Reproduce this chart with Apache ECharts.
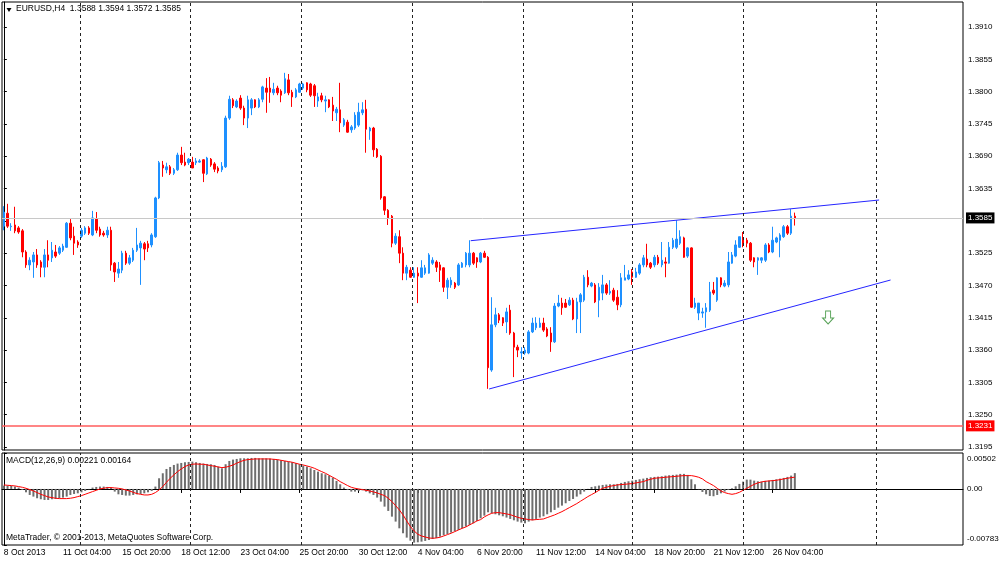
<!DOCTYPE html>
<html>
<head>
<meta charset="utf-8">
<title>EURUSD,H4</title>
<script src="https://cdn.jsdelivr.net/npm/echarts@6/dist/echarts.min.js"></script>
<style>
  html, body { margin: 0; padding: 0; background: #fff; }
  #main { width: 1000px; height: 562px; }
</style>
</head>
<body>
<div id="main"></div>
<script>
// candles: [open, close, low, high]
var candles = [
  [1.3571,1.3595,1.3564,1.3605],[1.3593,1.3571,1.3568,1.3609],[1.3570,1.3571,1.3563,1.3576],[1.3573,1.3563,1.3559,1.3604],
  [1.3568,1.3561,1.3558,1.3571],[1.3563,1.3527,1.3518,1.3566],[1.3527,1.3505,1.3500,1.3530],[1.3505,1.3513,1.3496,1.3518],
  [1.3510,1.3522,1.3483,1.3527],[1.3522,1.3505,1.3500,1.3532],[1.3510,1.3501,1.3484,1.3513],[1.3501,1.3522,1.3484,1.3532],
  [1.3522,1.3513,1.3501,1.3547],[1.3517,1.3530,1.3510,1.3544],[1.3527,1.3520,1.3517,1.3539],[1.3525,1.3534,1.3522,1.3537],
  [1.3530,1.3537,1.3527,1.3541],[1.3535,1.3576,1.3534,1.3578],[1.3576,1.3551,1.3547,1.3583],[1.3554,1.3542,1.3522,1.3570],
  [1.3544,1.3539,1.3534,1.3547],[1.3554,1.3564,1.3551,1.3568],[1.3559,1.3568,1.3556,1.3571],[1.3568,1.3559,1.3556,1.3571],
  [1.3556,1.3585,1.3554,1.3597],[1.3583,1.3564,1.3559,1.3595],[1.3566,1.3556,1.3553,1.3570],[1.3559,1.3556,1.3553,1.3563],
  [1.3556,1.3564,1.3551,1.3570],[1.3564,1.3505,1.3495,1.3570],[1.3508,1.3493,1.3476,1.3510],[1.3491,1.3498,1.3483,1.3510],
  [1.3496,1.3525,1.3491,1.3529],[1.3525,1.3508,1.3505,1.3529],[1.3508,1.3517,1.3505,1.3522],[1.3513,1.3530,1.3510,1.3534],
  [1.3530,1.3539,1.3527,1.3568],[1.3534,1.3542,1.3471,1.3546],[1.3541,1.3532,1.3513,1.3544],[1.3541,1.3534,1.3527,1.3546],
  [1.3539,1.3556,1.3535,1.3559],[1.3553,1.3619,1.3551,1.3621],[1.3619,1.3679,1.3617,1.3682],[1.3675,1.3670,1.3655,1.3682],
  [1.3667,1.3672,1.3661,1.3679],[1.3672,1.3661,1.3658,1.3675],[1.3661,1.3667,1.3658,1.3670],[1.3667,1.3692,1.3665,1.3696],
  [1.3692,1.3679,1.3675,1.3706],[1.3680,1.3675,1.3673,1.3696],[1.3679,1.3685,1.3675,1.3687],[1.3680,1.3670,1.3670,1.3689],
  [1.3679,1.3682,1.3675,1.3687],[1.3680,1.3682,1.3679,1.3685],[1.3684,1.3661,1.3646,1.3685],[1.3660,1.3687,1.3658,1.3689],
  [1.3685,1.3675,1.3672,1.3687],[1.3677,1.3668,1.3663,1.3680],[1.3670,1.3665,1.3661,1.3673],[1.3667,1.3673,1.3663,1.3680],
  [1.3672,1.3755,1.3670,1.3759],[1.3755,1.3787,1.3752,1.3793],[1.3786,1.3776,1.3772,1.3789],[1.3774,1.3784,1.3772,1.3787],
  [1.3789,1.3772,1.3769,1.3794],[1.3772,1.3755,1.3743,1.3776],[1.3755,1.3786,1.3738,1.3793],[1.3772,1.3786,1.3760,1.3789],
  [1.3786,1.3774,1.3772,1.3787],[1.3774,1.3786,1.3772,1.3789],[1.3787,1.3808,1.3782,1.3810],[1.3806,1.3799,1.3764,1.3823],
  [1.3806,1.3799,1.3781,1.3825],[1.3798,1.3804,1.3794,1.3815],[1.3806,1.3798,1.3794,1.3810],[1.3801,1.3794,1.3782,1.3804],
  [1.3798,1.3822,1.3796,1.3832],[1.3820,1.3798,1.3794,1.3830],[1.3799,1.3791,1.3774,1.3803],[1.3791,1.3803,1.3789,1.3806],
  [1.3799,1.3813,1.3798,1.3815],[1.3806,1.3813,1.3803,1.3815],[1.3815,1.3803,1.3799,1.3816],[1.3813,1.3794,1.3791,1.3815],
  [1.3810,1.3793,1.3774,1.3813],[1.3784,1.3791,1.3774,1.3798],[1.3793,1.3786,1.3782,1.3798],[1.3784,1.3786,1.3765,1.3793],
  [1.3786,1.3774,1.3772,1.3787],[1.3777,1.3767,1.3750,1.3791],[1.3764,1.3770,1.3750,1.3774],[1.3769,1.3747,1.3731,1.3815],
  [1.3743,1.3752,1.3740,1.3755],[1.3748,1.3731,1.3730,1.3752],[1.3735,1.3740,1.3730,1.3743],[1.3738,1.3760,1.3735,1.3765],
  [1.3743,1.3765,1.3740,1.3781],[1.3764,1.3769,1.3760,1.3782],[1.3770,1.3736,1.3696,1.3786],[1.3733,1.3738,1.3718,1.3740],
  [1.3738,1.3701,1.3689,1.3740],[1.3702,1.3689,1.3687,1.3704],[1.3690,1.3619,1.3616,1.3692],[1.3621,1.3598,1.3590,1.3622],
  [1.3598,1.3585,1.3573,1.3600],[1.3588,1.3542,1.3535,1.3590],[1.3542,1.3554,1.3539,1.3559],[1.3553,1.3525,1.3508,1.3564],
  [1.3525,1.3491,1.3479,1.3535],[1.3491,1.3501,1.3479,1.3505],[1.3496,1.3484,1.3483,1.3501],[1.3484,1.3491,1.3483,1.3501],
  [1.3491,1.3486,1.3440,1.3501],[1.3484,1.3500,1.3483,1.3513],[1.3491,1.3500,1.3488,1.3505],[1.3491,1.3522,1.3490,1.3525],
  [1.3508,1.3513,1.3505,1.3518],[1.3510,1.3501,1.3493,1.3513],[1.3505,1.3496,1.3476,1.3510],[1.3500,1.3467,1.3459,1.3501],
  [1.3467,1.3479,1.3447,1.3483],[1.3471,1.3479,1.3466,1.3484],[1.3474,1.3467,1.3464,1.3476],[1.3471,1.3505,1.3469,1.3508],
  [1.3501,1.3508,1.3500,1.3510],[1.3505,1.3525,1.3501,1.3527],[1.3505,1.3525,1.3501,1.3547],[1.3525,1.3508,1.3505,1.3527],
  [1.3517,1.3510,1.3500,1.3518],[1.3510,1.3525,1.3508,1.3527],[1.3525,1.3518,1.3517,1.3529],[1.3518,1.3330,1.3294,1.3520],
  [1.3326,1.3403,1.3323,1.3450],[1.3403,1.3420,1.3399,1.3432],[1.3420,1.3411,1.3406,1.3423],[1.3415,1.3406,1.3401,1.3416],
  [1.3408,1.3425,1.3389,1.3432],[1.3428,1.3389,1.3386,1.3437],[1.3389,1.3365,1.3314,1.3391],[1.3365,1.3360,1.3348,1.3369],
  [1.3355,1.3357,1.3345,1.3365],[1.3355,1.3360,1.3352,1.3365],[1.3355,1.3391,1.3353,1.3394],[1.3391,1.3406,1.3389,1.3415],
  [1.3398,1.3406,1.3394,1.3416],[1.3399,1.3406,1.3398,1.3415],[1.3406,1.3394,1.3391,1.3415],[1.3396,1.3384,1.3382,1.3399],
  [1.3389,1.3374,1.3357,1.3399],[1.3374,1.3435,1.3372,1.3440],[1.3435,1.3440,1.3433,1.3454],[1.3440,1.3432,1.3420,1.3449],
  [1.3440,1.3433,1.3432,1.3447],[1.3437,1.3445,1.3435,1.3450],[1.3445,1.3413,1.3411,1.3449],[1.3413,1.3442,1.3389,1.3449],
  [1.3442,1.3454,1.3389,1.3457],[1.3445,1.3484,1.3442,1.3488],[1.3484,1.3471,1.3467,1.3496],[1.3469,1.3474,1.3467,1.3476],
  [1.3471,1.3442,1.3440,1.3474],[1.3445,1.3467,1.3416,1.3474],[1.3457,1.3471,1.3445,1.3488],[1.3471,1.3457,1.3454,1.3474],
  [1.3457,1.3460,1.3454,1.3479],[1.3462,1.3445,1.3442,1.3466],[1.3450,1.3437,1.3428,1.3462],[1.3437,1.3483,1.3433,1.3491],
  [1.3479,1.3483,1.3479,1.3505],[1.3481,1.3488,1.3479,1.3496],[1.3493,1.3484,1.3471,1.3498],[1.3484,1.3493,1.3483,1.3500],
  [1.3491,1.3505,1.3488,1.3508],[1.3505,1.3517,1.3501,1.3522],[1.3515,1.3505,1.3501,1.3541],[1.3508,1.3501,1.3498,1.3510],
  [1.3505,1.3518,1.3501,1.3522],[1.3518,1.3508,1.3505,1.3522],[1.3505,1.3513,1.3501,1.3544],[1.3510,1.3508,1.3484,1.3518],
  [1.3508,1.3535,1.3507,1.3544],[1.3535,1.3547,1.3532,1.3551],[1.3535,1.3549,1.3532,1.3581],[1.3542,1.3553,1.3539,1.3564],
  [1.3551,1.3518,1.3517,1.3553],[1.3520,1.3534,1.3517,1.3535],[1.3534,1.3433,1.3432,1.3535],[1.3433,1.3440,1.3430,1.3449],
  [1.3423,1.3440,1.3411,1.3440],[1.3423,1.3425,1.3415,1.3432],[1.3425,1.3432,1.3398,1.3440],[1.3428,1.3459,1.3425,1.3476],
  [1.3462,1.3457,1.3454,1.3476],[1.3445,1.3483,1.3442,1.3484],[1.3483,1.3471,1.3467,1.3484],[1.3469,1.3474,1.3467,1.3479],
  [1.3471,1.3510,1.3467,1.3527],[1.3508,1.3522,1.3507,1.3527],[1.3520,1.3539,1.3518,1.3547],[1.3535,1.3553,1.3534,1.3553],
  [1.3549,1.3539,1.3535,1.3561],[1.3547,1.3542,1.3535,1.3551],[1.3542,1.3513,1.3510,1.3544],[1.3517,1.3510,1.3501,1.3518],
  [1.3513,1.3517,1.3488,1.3518],[1.3513,1.3517,1.3508,1.3518],[1.3513,1.3539,1.3510,1.3542],[1.3539,1.3527,1.3525,1.3542],
  [1.3527,1.3547,1.3525,1.3570],[1.3544,1.3551,1.3542,1.3553],[1.3547,1.3556,1.3518,1.3559],[1.3553,1.3570,1.3551,1.3573],
  [1.3570,1.3559,1.3556,1.3573],[1.3559,1.3588,1.3556,1.3600],[1.3588,1.3585,1.3572,1.3594]
];

// MACD(12,26,9) histogram and signal, read bar by bar
var macdMain = [
  0.00047,0.00047,0.00042,0.00033,0.00019,-0.00014,-0.00047,-0.00084,-0.00107,-0.00130,
  -0.00144,-0.00154,-0.00154,-0.00144,-0.00140,-0.00130,-0.00121,-0.00107,-0.00084,-0.00070,
  -0.00061,-0.00047,-0.00028,-0.00005,0.00019,0.00028,0.00033,0.00033,0.00028,0.00019,
  -0.00037,-0.00075,-0.00084,-0.00093,-0.00093,-0.00084,-0.00075,-0.00070,-0.00061,-0.00047,
  -0.00028,0.00033,0.00149,0.00219,0.00279,0.00307,0.00335,0.00354,0.00363,0.00373,
  0.00377,0.00382,0.00373,0.00363,0.00354,0.00349,0.00345,0.00335,0.00312,0.00289,
  0.00345,0.00391,0.00410,0.00419,0.00428,0.00428,0.00428,0.00433,0.00433,0.00428,
  0.00428,0.00428,0.00424,0.00419,0.00410,0.00400,0.00391,0.00382,0.00373,0.00359,
  0.00345,0.00326,0.00312,0.00289,0.00265,0.00242,0.00219,0.00205,0.00186,0.00158,
  0.00112,0.00065,0.00019,-0.00014,-0.00037,-0.00037,-0.00028,-0.00019,-0.00037,-0.00061,
  -0.00084,-0.00121,-0.00177,-0.00247,-0.00307,-0.00387,-0.00456,-0.00550,-0.00619,-0.00680,
  -0.00722,-0.00750,-0.00745,-0.00736,-0.00726,-0.00713,-0.00699,-0.00685,-0.00666,-0.00647,
  -0.00629,-0.00610,-0.00591,-0.00573,-0.00550,-0.00526,-0.00503,-0.00480,-0.00447,-0.00410,
  -0.00373,-0.00326,-0.00340,-0.00354,-0.00368,-0.00382,-0.00400,-0.00419,-0.00438,-0.00456,
  -0.00470,-0.00480,-0.00456,-0.00438,-0.00419,-0.00400,-0.00382,-0.00354,-0.00326,-0.00293,
  -0.00261,-0.00233,-0.00200,-0.00168,-0.00140,-0.00107,-0.00075,-0.00037,0.00002,0.00028,
  0.00037,0.00047,0.00056,0.00061,0.00065,0.00065,0.00070,0.00084,0.00098,0.00107,
  0.00116,0.00126,0.00135,0.00144,0.00154,0.00163,0.00168,0.00172,0.00177,0.00186,
  0.00191,0.00196,0.00200,0.00210,0.00210,0.00196,0.00135,0.00065,-0.00005,-0.00042,
  -0.00075,-0.00098,-0.00102,-0.00084,-0.00061,-0.00037,-0.00014,0.00009,0.00037,0.00070,
  0.00102,0.00130,0.00130,0.00116,0.00107,0.00102,0.00112,0.00116,0.00126,0.00135,
  0.00144,0.00154,0.00168,0.00186,0.00221
];
var macdSignal = [
  0.00056,0.00051,0.00047,0.00042,0.00033,0.00023,0.00009,-0.00009,-0.00028,-0.00051,
  -0.00075,-0.00093,-0.00112,-0.00121,-0.00130,-0.00135,-0.00135,-0.00135,-0.00130,-0.00121,
  -0.00107,-0.00093,-0.00075,-0.00056,-0.00037,-0.00019,0.00000,0.00009,0.00019,0.00019,
  0.00014,0.00009,0.00000,-0.00014,-0.00028,-0.00047,-0.00065,-0.00075,-0.00084,-0.00084,
  -0.00075,-0.00051,-0.00014,0.00033,0.00093,0.00149,0.00196,0.00242,0.00279,0.00312,
  0.00335,0.00345,0.00349,0.00345,0.00345,0.00335,0.00326,0.00317,0.00307,0.00298,
  0.00303,0.00317,0.00335,0.00359,0.00382,0.00400,0.00410,0.00414,0.00419,0.00419,
  0.00419,0.00419,0.00419,0.00414,0.00410,0.00400,0.00391,0.00382,0.00373,0.00359,
  0.00345,0.00335,0.00321,0.00307,0.00289,0.00265,0.00242,0.00219,0.00191,0.00163,
  0.00135,0.00102,0.00075,0.00047,0.00023,0.00009,0.00000,-0.00009,-0.00019,-0.00028,
  -0.00042,-0.00056,-0.00075,-0.00093,-0.00130,-0.00177,-0.00233,-0.00293,-0.00363,-0.00447,
  -0.00526,-0.00587,-0.00633,-0.00657,-0.00671,-0.00685,-0.00689,-0.00685,-0.00675,-0.00657,
  -0.00638,-0.00619,-0.00596,-0.00573,-0.00550,-0.00531,-0.00503,-0.00475,-0.00447,-0.00428,
  -0.00391,-0.00363,-0.00340,-0.00331,-0.00331,-0.00340,-0.00349,-0.00359,-0.00377,-0.00396,
  -0.00410,-0.00419,-0.00428,-0.00433,-0.00428,-0.00424,-0.00419,-0.00400,-0.00382,-0.00363,
  -0.00340,-0.00317,-0.00289,-0.00261,-0.00233,-0.00205,-0.00172,-0.00140,-0.00107,-0.00079,
  -0.00051,-0.00019,0.00009,0.00023,0.00037,0.00047,0.00056,0.00061,0.00065,0.00070,
  0.00075,0.00084,0.00093,0.00102,0.00121,0.00135,0.00149,0.00154,0.00158,0.00163,
  0.00168,0.00172,0.00177,0.00182,0.00186,0.00186,0.00186,0.00177,0.00163,0.00140,
  0.00102,0.00075,0.00047,0.00009,-0.00028,-0.00051,-0.00065,-0.00075,-0.00065,-0.00047,
  -0.00019,0.00009,0.00037,0.00065,0.00084,0.00098,0.00107,0.00112,0.00116,0.00121,
  0.00130,0.00140,0.00149,0.00158,0.00164
];

var priceTicks = [1.3195, 1.3250, 1.3305, 1.3360, 1.3415, 1.3470, 1.3525, 1.3580, 1.3635, 1.3690, 1.3745, 1.3800, 1.3855, 1.3910];
var macdTicks = [0.00502, 0, -0.00783];
var priceMin = 1.31899, priceMax = 1.39526;
var bidPrice = 1.3585;
var levelPrice = 1.3231;
// trend lines [barFrom, priceFrom, barTo, priceTo]
var trendLines = [[126.3, 1.35462, 236.8, 1.36155], [131.3, 1.32938, 239.9, 1.34793]];
// vertical dashed lines, in bar units
var vLines = [20.6, 50.5, 80.5, 110.4, 140.4, 170.1, 200.1, 236.1];
var sellArrow = [223, 1.34155];
var totalSlots = 260;
var labelStep = 16;

// H4 bar times, weekends skipped
var MON = ['Jan','Feb','Mar','Apr','May','Jun','Jul','Aug','Sep','Oct','Nov','Dec'];
var dates = [];
var t = Date.UTC(2013, 9, 8, 12);
for (var i = 0; i < totalSlots; i++) {
    var d = new Date(t);
    var hh = ('0' + d.getUTCHours()).slice(-2);
    dates.push(i === 0
        ? d.getUTCDate() + ' ' + MON[d.getUTCMonth()] + ' ' + d.getUTCFullYear()
        : d.getUTCDate() + ' ' + MON[d.getUTCMonth()] + ' ' + hh + ':00');
    t += 4 * 3600e3;
    while ([0, 6].indexOf(new Date(t).getUTCDay()) >= 0) t += 4 * 3600e3;
}
function showLabel(idx) { return idx % labelStep === 0 && idx < candles.length; }

var FONT = 'Liberation Sans';
var FS = 8.5;   // texts and time axis
var YFS = 8;    // price / MACD axis
var last = candles[candles.length - 1];

var myChart = echarts.init(document.getElementById('main'));

function vLineMark() {
    return {
        silent: true, symbol: ['none', 'none'], precision: 4,
        label: {show: false},
        lineStyle: {color: '#222', type: [3, 3], width: 1},
        data: vLines.map(function (v) { return {xAxis: v}; })
    };
}
function priceTag(price, lineColor, lineWidth, boxColor) {
    return {
        yAxis: price, lineStyle: {color: lineColor, type: 'solid', width: lineWidth},
        label: {show: true, position: 'end', distance: 3, formatter: price.toFixed(4),
            color: '#fff', backgroundColor: boxColor, padding: [2, 2, 1, 2], fontFamily: FONT, fontSize: YFS}
    };
}
function indexed(arr) { return arr.map(function (v, k) { return [k, v]; }); }

var option = {
    animation: false,
    backgroundColor: '#fff',
    grid: [
        {left: 2, top: 2, width: 961, height: 448, show: true, borderColor: '#000', borderWidth: 1,
            containLabel: false, outerBoundsMode: 'none'},
        {left: 2, top: 453, width: 961, height: 92, show: true, borderColor: '#000', borderWidth: 1,
            containLabel: false, outerBoundsMode: 'none'}
    ],
    xAxis: [
        {type: 'category', gridIndex: 0, data: dates, boundaryGap: true, show: false},
        {type: 'category', gridIndex: 1, data: dates, boundaryGap: true,
            axisLine: {show: true, lineStyle: {color: '#000'}},
            axisTick: {show: true, alignWithLabel: true, interval: showLabel, length: 4, lineStyle: {color: '#000'}},
            axisLabel: {interval: showLabel, align: 'left', margin: 3, fontFamily: FONT, fontSize: FS, color: '#000'},
            splitLine: {show: false}},
        {type: 'value', gridIndex: 0, min: -0.5, max: totalSlots - 0.5, show: false},
        {type: 'value', gridIndex: 1, min: -0.5, max: totalSlots - 0.5, show: false}
    ],
    yAxis: [
        {type: 'value', gridIndex: 0, position: 'right', min: priceMin, max: priceMax,
            axisLine: {show: true, lineStyle: {color: '#000'}},
            axisTick: {show: true, customValues: priceTicks, length: 3, lineStyle: {color: '#000'}},
            axisLabel: {customValues: priceTicks, margin: 5, fontFamily: FONT, fontSize: YFS, color: '#000',
                showMinLabel: true, showMaxLabel: true,
                formatter: function (v) { return v.toFixed(4); }},
            splitLine: {show: false}},
        {type: 'value', gridIndex: 1, position: 'right', min: macdTicks[2], max: macdTicks[0],
            axisLine: {show: true, lineStyle: {color: '#000'}},
            axisTick: {show: true, customValues: macdTicks, length: 3, lineStyle: {color: '#000'}},
            axisLabel: {customValues: macdTicks, margin: 4, fontFamily: FONT, fontSize: YFS, color: '#000',
                formatter: function (v) {
                    if (v === macdTicks[0]) return '{t|' + v.toFixed(5) + '}';
                    if (v === macdTicks[2]) return '{b|' + v.toFixed(5) + '}';
                    return '0.00';
                },
                rich: {
                    t: {padding: [12, 0, 0, 0], fontFamily: FONT, fontSize: YFS, color: '#000'},
                    b: {padding: [0, 0, 12, 0], fontFamily: FONT, fontSize: YFS, color: '#000'}
                }},
            splitLine: {show: false}}
    ],
    series: [
        {
            type: 'candlestick', xAxisIndex: 0, yAxisIndex: 0, data: candles, barWidth: 2,
            itemStyle: {color: '#1e90ff', color0: '#ff0000', borderColor: '#1e90ff', borderColor0: '#ff0000', borderWidth: 1}
        },
        {
            type: 'line', xAxisIndex: 2, yAxisIndex: 0, symbol: 'none',
            data: [[trendLines[0][0], trendLines[0][1]], [trendLines[0][2], trendLines[0][3]]],
            lineStyle: {color: '#2525ff', width: 1},
            markLine: vLineMark()
        },
        {
            type: 'line', xAxisIndex: 2, yAxisIndex: 0, symbol: 'none',
            data: [[trendLines[1][0], trendLines[1][1]], [trendLines[1][2], trendLines[1][3]]],
            lineStyle: {color: '#2525ff', width: 1},
            markLine: {
                silent: true, symbol: ['none', 'none'], precision: 4,
                data: [priceTag(bidPrice, '#c8c8c8', 1, '#000'), priceTag(levelPrice, '#ff5c5c', 1.5, '#ff0000')]
            }
        },
        {
            type: 'scatter', xAxisIndex: 0, yAxisIndex: 0,
            data: [sellArrow],
            symbol: 'path://M3,0 L8,0 L8,7 L11,7 L5.5,13 L0,7 L3,7 Z',
            symbolSize: [11, 13],
            itemStyle: {color: 'rgba(0,0,0,0)', borderColor: '#2d8b2d', borderWidth: 1}
        },
        {
            type: 'bar', xAxisIndex: 3, yAxisIndex: 1, data: indexed(macdMain), barWidth: 2,
            itemStyle: {color: '#6e6e6e'}
        },
        {
            type: 'line', xAxisIndex: 3, yAxisIndex: 1, data: indexed(macdSignal), symbol: 'none',
            lineStyle: {color: '#ff0000', width: 1},
            markLine: vLineMark()
        }
    ],
    graphic: [
        {type: 'polygon', shape: {points: [[6.5, 8], [11.5, 8], [9, 12]]}, style: {fill: '#000'}},
        {type: 'text', left: 16, top: 4, style: {
            text: 'EURUSD,H4  ' + [last[0], last[3], last[2], last[1]].map(function (v) { return v.toFixed(4); }).join(' '),
            font: FS + 'px "' + FONT + '"', fill: '#000'}},
        {type: 'text', left: 6, top: 456, style: {
            text: 'MACD(12,26,9) ' + macdMain[macdMain.length - 1].toFixed(5) + ' ' + macdSignal[macdSignal.length - 1].toFixed(5),
            font: FS + 'px "' + FONT + '"', fill: '#000'}},
        {type: 'text', left: 6, top: 533, style: {
            text: 'MetaTrader, \u00a9 2001-2013, MetaQuotes Software Corp.',
            font: FS + 'px "' + FONT + '"', fill: '#000'}}
    ]
};

myChart.setOption(option);
</script>
</body>
</html>
